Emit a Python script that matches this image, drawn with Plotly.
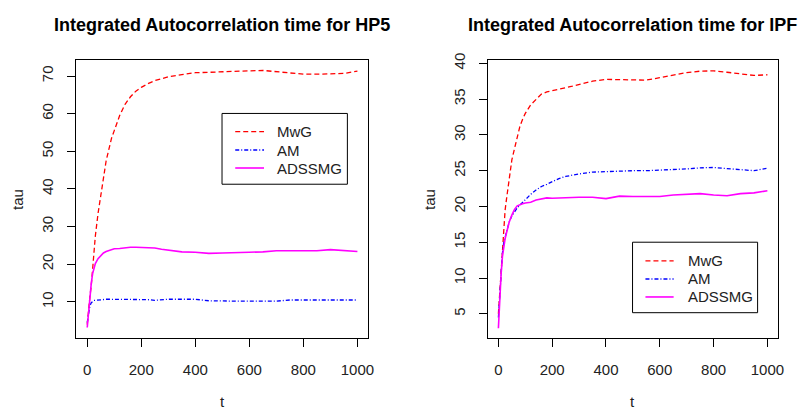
import plotly.graph_objects as go

# ---------------- data ----------------
t = [0, 5, 10, 15, 20, 25, 30, 40, 50, 60, 70, 80, 90, 100, 120, 140, 160, 180, 200,
     225, 250, 275, 300, 350, 400, 450, 500, 550, 600, 650, 700, 750, 800, 850, 900, 950, 1000]

hp5_mwg = [4.0, 8.3, 11.5, 14.4, 19.5, 24.0, 27.5, 33.5, 38.0, 43.5, 47.5, 50.5, 53.5, 55.5,
           59.5, 62.5, 64.5, 66.0, 67.0, 68.0, 68.8, 69.3, 69.8, 70.4, 70.9, 71.0, 71.2,
           71.3, 71.4, 71.5, 71.2, 70.7, 70.5, 70.5, 70.5, 70.7, 71.3]
hp5_am = [4.5, 7.5, 9.0, 9.8, 10.2, 10.4, 10.4, 10.5, 10.6, 10.6, 10.7, 10.7, 10.7, 10.7,
          10.7, 10.7, 10.7, 10.7, 10.7, 10.6, 10.4, 10.6, 10.7, 10.7, 10.7, 10.3, 10.2,
          10.2, 10.2, 10.2, 10.2, 10.5, 10.5, 10.5, 10.5, 10.5, 10.5]
hp5_adssmg = [3.2, 8.0, 12.0, 15.0, 17.5, 19.2, 20.2, 21.5, 22.3, 23.0, 23.4, 23.7, 24.0, 24.1,
              24.2, 24.4, 24.5, 24.5, 24.5, 24.5, 24.3, 24.0, 23.8, 23.3, 23.2, 22.9, 23.0,
              23.2, 23.2, 23.3, 23.6, 23.6, 23.5, 23.6, 23.9, 23.6, 23.4]

ipf_mwg = [5.0, 8.0, 11.0, 14.0, 16.5, 19.5, 21.0, 24.0, 26.5, 28.1, 29.8, 31.2, 32.2, 33.0,
           34.2, 35.0, 35.7, 36.0, 36.2, 36.4, 36.6, 36.8, 37.0, 37.5, 37.75, 37.7, 37.6,
           37.65, 38.0, 38.35, 38.7, 38.9, 38.95, 38.75, 38.5, 38.3, 38.4]
ipf_am = [4.5, 8.0, 11.0, 13.5, 15.0, 15.8, 16.3, 17.8, 18.7, 19.3, 19.8, 20.2, 20.6, 21.0,
          21.7, 22.3, 22.8, 23.1, 23.5, 23.9, 24.2, 24.4, 24.55, 24.8, 24.9, 24.95, 25.0,
          25.0, 25.05, 25.15, 25.25, 25.4, 25.45, 25.3, 25.2, 25.0, 25.35]
ipf_adssmg = [3.0, 7.6, 10.5, 13.0, 14.5, 15.5, 16.3, 17.8, 18.8, 19.6, 20.1, 20.3, 20.4, 20.5,
              20.6, 20.9, 21.1, 21.2, 21.15, 21.15, 21.2, 21.25, 21.3, 21.3, 21.1, 21.45, 21.4,
              21.35, 21.4, 21.6, 21.65, 21.8, 21.6, 21.5, 21.8, 21.9, 22.2]

series_names = ["MwG", "AM", "ADSSMG"]
titles = ["Integrated Autocorrelation time for HP5", "Integrated Autocorrelation time for IPF"]
x_ticks = [0, 200, 400, 600, 800, 1000]
hp5_y_ticks = [10, 20, 30, 40, 50, 60, 70]
ipf_y_ticks = [5, 10, 15, 20, 25, 30, 35, 40]

# ---------------- styles ----------------
W, H = 804, 410
FONT = "Liberation Sans, Arial, sans-serif"
styles = [
    dict(color="#FF0000", width=1.3, dash="5px,3px"),
    dict(color="#0000FF", width=1.3, dash="4px,2px,1px,2px"),
    dict(color="#FF00FF", width=1.6, dash="solid"),
]
TXT = "#222"

fig = go.Figure()

panels = [
    dict(data=[hp5_mwg, hp5_am, hp5_adssmg], xa="x", ya="y"),
    dict(data=[ipf_mwg, ipf_am, ipf_adssmg], xa="x2", ya="y2"),
]
for p in panels:
    for name, ys, st in zip(series_names, p["data"], styles):
        fig.add_trace(go.Scatter(x=t, y=ys, mode="lines", name=name, line=st,
                                 xaxis=p["xa"], yaxis=p["ya"], showlegend=False))

# plot boxes in pixels
L1, R1 = 77, 371
L2, R2 = 491.3, 784
TOP, BOT = 54, 337


def px(v):
    return v / W


def py(v):
    return 1 - v / H


axis_common = dict(showline=True, mirror=True, linecolor="black", linewidth=1,
                   ticks="outside", ticklen=8, tickcolor="black", tickwidth=1,
                   showgrid=False, zeroline=False,
                   tickfont=dict(family=FONT, size=15, color=TXT))

fig.update_layout(
    width=W, height=H, autosize=False,
    margin=dict(l=0, r=0, t=0, b=0),
    paper_bgcolor="white", plot_bgcolor="white",
    xaxis=dict(domain=[px(L1), px(R1)], range=[-40, 1040], tickvals=x_ticks,
               anchor="y", ticklabelstandoff=10, **axis_common),
    yaxis=dict(domain=[py(BOT), py(TOP)], range=[0.34, 74.25], tickvals=hp5_y_ticks,
               anchor="x", tickangle=-90, ticklabelstandoff=8, **axis_common),
    xaxis2=dict(domain=[px(L2), px(R2)], range=[-40, 1040], tickvals=x_ticks,
                anchor="y2", ticklabelstandoff=10, **axis_common),
    yaxis2=dict(domain=[py(BOT), py(TOP)], range=[1.6, 40.45], tickvals=ipf_y_ticks,
                anchor="x2", tickangle=-90, ticklabelstandoff=8, **axis_common),
    showlegend=False,
)

ann = []
shapes = []
for (l, r), title in zip([(L1, R1), (L2, R2)], titles):
    cx = px((l + r) / 2)
    ann.append(dict(text="<b>" + title + "</b>", x=cx, y=py(18), xref="paper", yref="paper",
                    xanchor="center", yanchor="middle", showarrow=False,
                    font=dict(family=FONT, size=18, color="black")))
    ann.append(dict(text="t", x=cx, y=py(401), xref="paper", yref="paper",
                    xanchor="center", yanchor="middle", showarrow=False,
                    font=dict(family=FONT, size=15, color=TXT)))
for xpos in [17, 432]:
    ann.append(dict(text="tau", x=px(xpos), y=py((TOP + BOT) / 2), xref="paper", yref="paper",
                    xanchor="center", yanchor="middle", showarrow=False, textangle=-90,
                    font=dict(family=FONT, size=15, color=TXT)))

# legends (R-style boxes)
legend_boxes = [
    dict(box=(223.7, 108.3, 350, 180.3), keys=(237, 266), text_x=277, rows=[126.7, 145.5, 163.8]),
    dict(box=(637.3, 239.3, 763.3, 311), keys=(650.3, 678.7), text_x=691, rows=[258.3, 276.7, 295]),
]
for lg in legend_boxes:
    x0, y0, x1, y1 = lg["box"]
    shapes.append(dict(type="rect", xref="paper", yref="paper", x0=px(x0), x1=px(x1),
                       y0=py(y1), y1=py(y0), line=dict(color="black", width=1),
                       fillcolor="white", layer="above"))
    for name, st, ry in zip(series_names, styles, lg["rows"]):
        shapes.append(dict(type="line", xref="paper", yref="paper",
                           x0=px(lg["keys"][0]), x1=px(lg["keys"][1]), y0=py(ry), y1=py(ry),
                           line=dict(color=st["color"], width=st["width"], dash=st["dash"]),
                           layer="above"))
        ann.append(dict(text=name, x=px(lg["text_x"]), y=py(ry), xref="paper", yref="paper",
                        xanchor="left", yanchor="middle", showarrow=False,
                        font=dict(family=FONT, size=15, color=TXT)))

fig.update_layout(annotations=ann, shapes=shapes)

fig.write_html("out.html")
